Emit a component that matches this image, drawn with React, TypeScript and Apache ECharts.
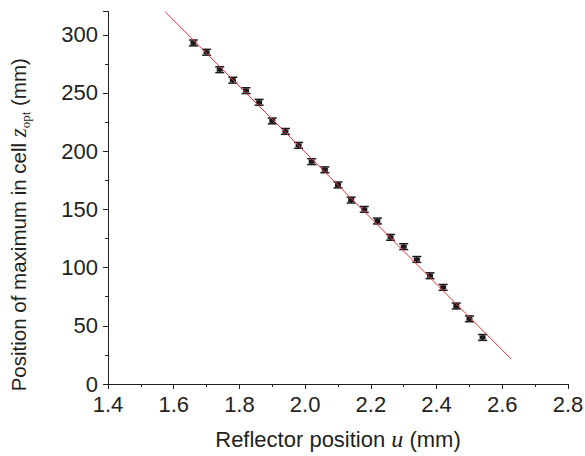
import React, { useEffect, useRef } from "react";
import * as echarts from "echarts";

const uValues = [1.66, 1.70, 1.74, 1.78, 1.82, 1.86, 1.90, 1.94, 1.98, 2.02, 2.06, 2.10, 2.14, 2.18, 2.22, 2.26, 2.30, 2.34, 2.38, 2.42, 2.46, 2.50, 2.54];
const zValues = [293, 285, 270, 261, 252, 242, 226, 217, 205, 191, 184, 171, 158, 150, 140, 126, 118, 107, 93, 83, 67, 56, 40];
const zErrors = [2.5, 2.5, 2.5, 2.5, 2.5, 2.5, 2.5, 2.5, 2.5, 2.5, 2.5, 2.5, 2.5, 2.5, 2.5, 2.5, 2.5, 2.5, 2.5, 2.5, 2.5, 2.5, 2.5];
const fitU = [1.573, 2.627];
const fitZ = [320, 21.5];

const textColor = "#231f20";
const sans = "'Liberation Sans', Arial, sans-serif";
const serif = "'Liberation Serif', 'Times New Roman', serif";

export default function App() {
  const ref = useRef<HTMLDivElement>(null);
  useEffect(() => {
    if (!ref.current) return;
    const chart = echarts.init(ref.current, null, { renderer: "svg" });
    const errData = uValues.map((u, i) => [u, zValues[i], zErrors[i]]);
    chart.setOption({
      animation: false,
      backgroundColor: "#ffffff",
      grid: { left: 108, right: 17, top: 11.5, bottom: 72, containLabel: false, outerBoundsMode: "none" },
      xAxis: {
        type: "value",
        min: 1.4,
        max: 2.8,
        interval: 0.2,
        name: "Reflector position {u|u} (mm)",
        nameLocation: "middle",
        nameGap: 43,
        nameTextStyle: {
          fontFamily: sans,
          fontSize: 22,
          color: textColor,
          rich: { u: { fontFamily: serif, fontStyle: "italic", fontSize: 24, color: textColor } },
        },
        axisLine: { show: true, onZero: false, lineStyle: { color: textColor, width: 1 } },
        axisTick: { show: true, inside: false, length: 5, lineStyle: { color: textColor } },
        minorTick: { show: true, splitNumber: 2, length: 3, lineStyle: { color: textColor } },
        splitLine: { show: false },
        axisLabel: {
          fontFamily: sans,
          fontSize: 22,
          color: textColor,
          margin: 9,
          formatter: (v: number) => v.toFixed(1),
        },
      },
      yAxis: {
        type: "value",
        min: 0,
        max: 320,
        interval: 50,
        name: "Position of maximum in cell {z|z}{sub|opt} (mm)",
        nameLocation: "middle",
        nameGap: 76,
        nameTextStyle: {
          fontFamily: sans,
          fontSize: 20.5,
          color: textColor,
          lineHeight: 28,
          padding: [0, 54, 0, 0],
          rich: {
            z: { fontFamily: serif, fontStyle: "italic", fontSize: 23, color: textColor, lineHeight: 28 },
            sub: { fontFamily: serif, fontSize: 13, color: textColor, lineHeight: 12, verticalAlign: "bottom" },
          },
        },
        axisLine: { show: true, lineStyle: { color: textColor, width: 1 } },
        axisTick: { show: true, inside: false, length: 5, lineStyle: { color: textColor } },
        minorTick: { show: true, splitNumber: 2, length: 3, lineStyle: { color: textColor } },
        splitLine: { show: false },
        axisLabel: {
          fontFamily: sans,
          fontSize: 22,
          color: textColor,
          margin: 10,
          formatter: (v: number) => (v > 300 ? "" : String(v)),
        },
      },
      series: [
        {
          type: "line",
          data: fitU.map((u, i) => [u, fitZ[i]]),
          symbol: "none",
          lineStyle: { color: "#ec2f35", width: 1 },
          z: 3,
        },
        {
          type: "custom",
          data: errData,
          z: 2,
          renderItem: (params: any, api: any) => {
            const x = api.value(0);
            const y = api.value(1);
            const e = api.value(2);
            const c = api.coord([x, y]);
            const top = api.coord([x, y + e]);
            const bot = api.coord([x, y - e]);
            const hw = 4.5;
            return {
              type: "group",
              children: [
                { type: "line", shape: { x1: c[0], y1: top[1], x2: c[0], y2: bot[1] }, style: { stroke: "#1a1a1a", lineWidth: 1.5 } },
                { type: "line", shape: { x1: c[0] - hw, y1: top[1], x2: c[0] + hw, y2: top[1] }, style: { stroke: "#1a1a1a", lineWidth: 1.5 } },
                { type: "line", shape: { x1: c[0] - hw, y1: bot[1], x2: c[0] + hw, y2: bot[1] }, style: { stroke: "#1a1a1a", lineWidth: 1.5 } },
                { type: "rect", shape: { x: c[0] - 3, y: c[1] - 2, width: 6, height: 4 }, style: { fill: "#1a1a1a" } },
              ],
            };
          },
        },
      ],
    });
    return () => chart.dispose();
  }, []);
  return <div ref={ref} style={{ width: 585, height: 456, position: "absolute", left: 0, top: 0 }} />;
}
